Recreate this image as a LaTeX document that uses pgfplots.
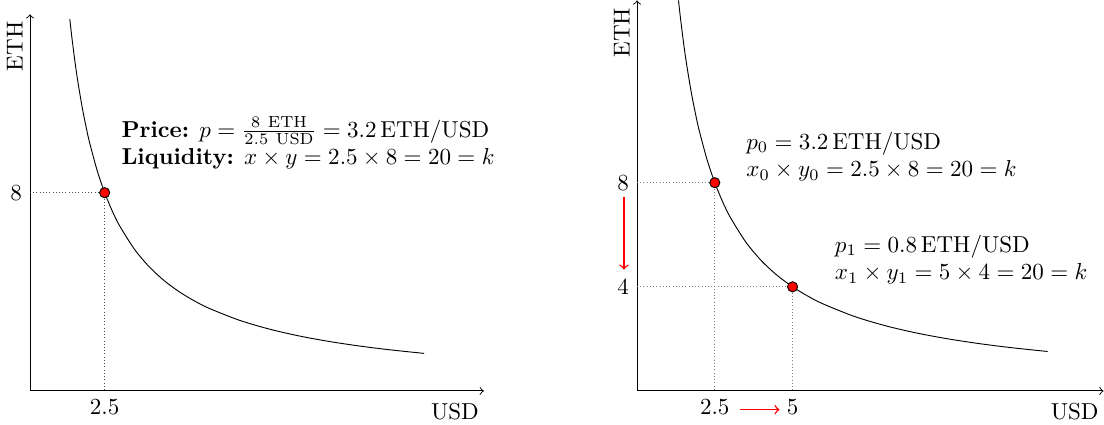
\documentclass[border=0pt]{standalone}
\usepackage{pgfplots}
\pgfplotsset{compat=1.18}
\pgfplotstableread{
x y
1.3333 15
1.4 14.2857
1.5 13.3333
1.6 12.5
1.75 11.4286
1.9 10.5263
2 10
2.25 8.8889
2.5 8
2.75 7.2727
3 6.6667
3.5 5.7143
4 5
4.5 4.4444
5 4
5.5 3.6364
6 3.3333
7 2.8571
8 2.5
9 2.2222
10 2
11 1.8182
12 1.6667
13.2 1.5152
}\curve
\begin{document}
\begin{tikzpicture}
\pgfplotsset{
  amm/.style={
    axis lines=left,
    axis line style={->, thin},
    xmin=0, ymin=0,
    scale only axis,
    clip=false,
    major tick length=0pt,
    xlabel={USD}, ylabel={ETH},
    xlabel style={at={(axis description cs:1,0)}, anchor=north east, inner sep=2pt, yshift=-3pt},
    ylabel style={at={(axis description cs:0,1)}, anchor=south east, inner sep=3pt},
  }
}
\begin{axis}[amm, name=L, width=197pt, height=163.5pt, xmax=15.2, ymax=15.2,
  xtick={2.5}, xticklabels={2.5}, ytick={8}]
\addplot[black, smooth] table {\curve};
\addplot[densely dotted, black!70] coordinates {(0,8) (2.5,8) (2.5,0)};
\addplot[only marks, mark=*, mark size=2.2pt, mark options={fill=red, draw=black}] coordinates {(2.5,8)};
\node[anchor=west, align=left, inner sep=0pt] at (axis cs:3.05,10.0)
  {\textbf{Price:} $p=\frac{8\ \mathrm{ETH}}{2.5\ \mathrm{USD}}=3.2\,\mathrm{ETH/USD}$\\
   \textbf{Liquidity:} $x\times y=2.5\times 8=20=k$};
\end{axis}
\begin{axis}[amm, at={(263.5pt,0)}, width=202.5pt, height=169.5pt, xmax=15, ymax=15,
  xtick={2.5,5}, xticklabels={2.5,5}, ytick={4,8}]
\addplot[black, smooth] table {\curve};
\addplot[densely dotted, black!50] coordinates {(0,8) (2.5,8) (2.5,0)};
\addplot[densely dotted, black!50] coordinates {(0,4) (5,4) (5,0)};
\addplot[only marks, mark=*, mark size=2.2pt, mark options={fill=red, draw=black}] coordinates {(2.5,8) (5,4)};
\draw[red, semithick, ->] (axis cs:-0.42,7.45) -- (axis cs:-0.42,4.66);
\draw[red, semithick, ->] (axis cs:3.3,-0.72) -- (axis cs:4.58,-0.72);
\node[anchor=west, align=left, inner sep=0pt] at (axis cs:3.5,9.0)
  {$p_0=3.2\,\mathrm{ETH/USD}$\\ $x_0\times y_0=2.5\times 8=20=k$};
\node[anchor=west, align=left, inner sep=0pt] at (axis cs:6.35,5.05)
  {$p_1=0.8\,\mathrm{ETH/USD}$\\ $x_1\times y_1=5\times 4=20=k$};
\end{axis}
\end{tikzpicture}
\end{document}
